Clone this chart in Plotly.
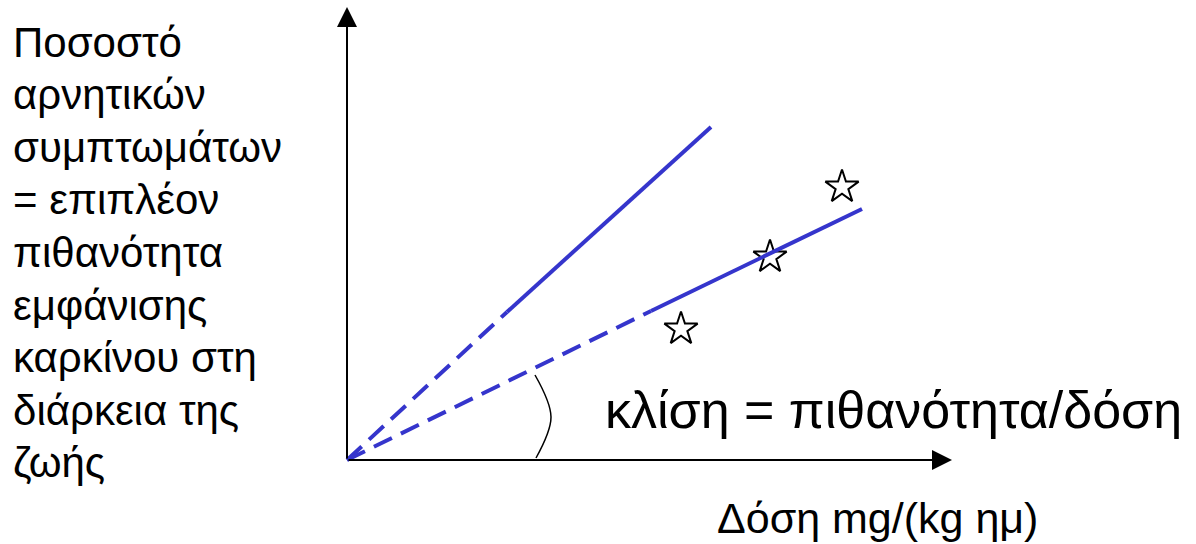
import plotly.graph_objects as go

# arbitrary units: dose on x, extra lifetime risk on y
axis_end_x = 6.05
axis_end_y = 4.53

# steeper line (dashed near origin, solid further out)
steep_dash_x = [0, 1.60]
steep_dash_y = [0, 1.48]
steep_solid_x = [1.60, 3.64]
steep_solid_y = [1.48, 3.33]

# fitted line through observations
fit_dash_x = [0, 3.04]
fit_dash_y = [0, 1.49]
fit_solid_x = [3.04, 5.15]
fit_solid_y = [1.49, 2.51]

# observed points
obs_x = [3.34, 4.23, 4.95]
obs_y = [1.31, 2.03, 2.73]

# angle arc
arc_x = [1.88, 2.04, 1.89]
arc_y = [0.85, 0.43, 0.02]

ylabel_lines = ["Ποσοστό", "αρνητικών", "συμπτωμάτων", "= επιπλέον",
                "πιθανότητα", "εμφάνισης", "καρκίνου στη", "διάρκεια της",
                "ζωής"]
slope_text = "κλίση = πιθανότητα/δόση"
xlabel_text = "Δόση mg/(kg ημ)"

BLUE = "#3535CC"
FONT = "Liberation Sans, Arial, sans-serif"

fig = go.Figure()

fig.add_trace(go.Scatter(x=obs_x, y=obs_y, mode="markers",
                         marker=dict(symbol="star", size=25, color="white",
                                     line=dict(color="black", width=2))))

for xs, ys, dash in [(steep_dash_x, steep_dash_y, "20px,10px"),
                     (steep_solid_x, steep_solid_y, "solid"),
                     (fit_dash_x, fit_dash_y, "20px,10px"),
                     (fit_solid_x, fit_solid_y, "solid")]:
    fig.add_trace(go.Scatter(x=xs, y=ys, mode="lines",
                             line=dict(color=BLUE, width=4, dash=dash)))

fig.add_trace(go.Scatter(x=arc_x, y=arc_y, mode="lines",
                         line=dict(color="black", width=1.5, shape="spline")))

# axes with arrowheads
for tx, ty in [(axis_end_x, 0), (0, axis_end_y)]:
    fig.add_annotation(x=tx, y=ty, ax=0, ay=0, xref="x", yref="y",
                       axref="x", ayref="y", text="", showarrow=True,
                       arrowhead=2, arrowsize=2, arrowwidth=2,
                       arrowcolor="black", standoff=0)

# y label, one line at a time to keep the wide line spacing
for i, line in enumerate(ylabel_lines):
    fig.add_annotation(x=-3.36, y=4.18 - 0.526 * i, xref="x", yref="y",
                       xanchor="left", yanchor="middle", showarrow=False,
                       text=line,
                       font=dict(family=FONT, size=42, color="black"))

fig.add_annotation(x=2.56, y=0.50, xref="x", yref="y", xanchor="left",
                   yanchor="middle", showarrow=False, text=slope_text,
                   font=dict(family=FONT, size=52, color="black"))
fig.add_annotation(x=3.68, y=-0.58, xref="x", yref="y", xanchor="left",
                   yanchor="middle", showarrow=False, text=xlabel_text,
                   font=dict(family=FONT, size=43, color="black"))

fig.update_layout(
    width=1196, height=544,
    margin=dict(l=0, r=0, t=0, b=0),
    paper_bgcolor="white", plot_bgcolor="white",
    showlegend=False,
    xaxis=dict(range=[-3.47, 8.49], visible=False, fixedrange=True),
    yaxis=dict(range=[-0.84, 4.60], visible=False, fixedrange=True),
)

fig.write_html("out.html", config={"displayModeBar": False},
               post_script="document.body.style.margin='0px';")
